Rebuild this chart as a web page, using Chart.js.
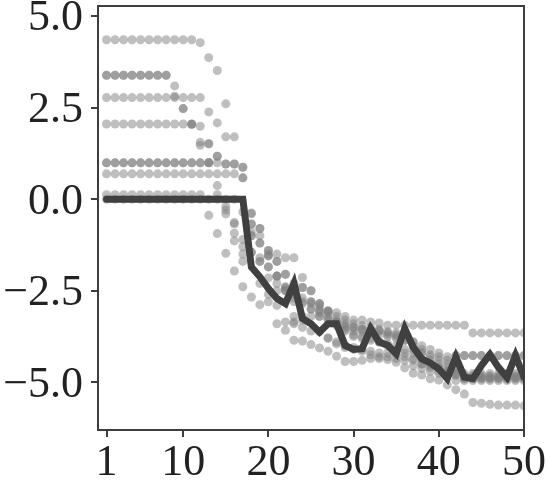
<!DOCTYPE html>
<html><head><meta charset="utf-8">
<script src="https://cdn.jsdelivr.net/npm/chart.js@4/dist/chart.umd.min.js"></script>
<style>html,body{margin:0;padding:0;background:#fff}#wrap{width:549px;height:487px}</style>
</head><body><div id="wrap"><canvas id="c" width="549" height="487"></canvas></div>
<script>
const steps = [1,2,3,4,5,6,7,8,9,10,11,12,13,14,15,16,17,18,19,20,21,22,23,24,25,26,27,28,29,30,31,32,33,34,35,36,37,38,39,40,41,42,43,44,45,46,47,48,49,50];
const xTicks = [1,10,20,30,40,50];
const yTicks = [-5,-2.5,0,2.5,5];

const mainLine = [0,0,0,0,0,0,0,0,0,0,0,0,0,0,0,0,0,-1.85,-2.12,-2.44,-2.71,-2.85,-2.30,-3.26,-3.40,-3.63,-3.40,-3.40,-3.99,-4.10,-4.08,-3.53,-3.90,-3.99,-4.22,-3.53,-4.04,-4.36,-4.47,-4.63,-4.90,-4.31,-4.86,-4.90,-4.54,-4.24,-4.59,-4.86,-4.27,-4.86];

const run1 = [4.35,4.35,4.35,4.35,4.35,4.35,4.35,4.35,4.35,4.35,4.35,4.27,3.86,3.51,2.60,1.70,0.87,-0.38,-0.80,-1.40,-1.50,-1.60,-1.60,-2.14,-2.50,-2.85,-3.05,-3.10,-3.20,-3.30,-3.30,-3.35,-3.38,-3.44,-3.44,-3.44,-3.44,-3.44,-3.44,-3.44,-3.44,-3.44,-3.44,-3.65,-3.65,-3.65,-3.65,-3.65,-3.65,-3.65];
const run2 = [3.38,3.38,3.38,3.38,3.38,3.38,3.38,3.38,3.09,2.47,2.04,1.55,1.51,1.17,0.96,-0.68,-1.10,-1.45,-1.70,-1.55,-1.70,-2.05,-2.40,-2.41,-2.80,-2.90,-3.28,-3.35,-3.50,-3.60,-3.60,-3.65,-3.70,-3.75,-3.80,-3.85,-3.90,-4.00,-4.10,-4.20,-4.30,-4.27,-4.27,-4.27,-4.27,-4.27,-4.27,-4.27,-4.27,-4.27];
const run3 = [3.38,3.38,3.38,3.38,3.38,3.38,3.38,3.38,2.81,2.47,2.04,1.47,1.00,0.37,-0.20,-0.93,-1.30,-1.00,-1.20,-1.85,-2.10,-2.40,-2.70,-2.70,-3.00,-3.05,-3.20,-3.45,-3.55,-3.75,-3.80,-3.85,-3.90,-4.00,-4.10,-4.20,-4.35,-4.50,-4.60,-4.70,-4.75,-4.80,-4.82,-4.82,-4.82,-4.82,-4.82,-4.82,-4.82,-4.82];
const run4 = [2.77,2.77,2.77,2.77,2.77,2.77,2.77,2.77,2.77,2.77,2.77,2.77,2.38,2.08,1.70,0.96,0.58,-0.68,-1.00,-1.50,-2.10,-2.50,-2.80,-2.85,-2.85,-3.10,-3.05,-3.30,-3.40,-3.50,-3.55,-3.60,-3.60,-3.70,-3.70,-3.80,-4.00,-4.20,-4.40,-4.50,-4.60,-4.70,-4.85,-4.85,-4.85,-4.85,-4.85,-4.85,-4.85,-4.85];
const run5 = [2.05,2.05,2.05,2.05,2.05,2.05,2.05,2.05,2.05,2.05,2.05,1.99,1.51,0.12,-0.30,-1.14,-1.50,-0.90,-1.60,-2.15,-2.30,-2.50,-3.20,-3.20,-3.20,-3.20,-3.78,-3.90,-4.00,-4.05,-4.10,-4.15,-4.20,-4.20,-4.25,-4.30,-4.40,-4.50,-4.55,-4.60,-4.70,-4.75,-4.90,-4.90,-4.90,-4.90,-4.90,-4.90,-4.90,-4.90];
const run6 = [0.99,0.99,0.99,0.99,0.99,0.99,0.99,0.99,0.99,0.99,0.99,0.99,0.99,0.99,0.96,0.96,0.87,-0.40,-0.80,-1.40,-2.50,-2.45,-3.35,-3.30,-2.50,-3.00,-3.10,-3.40,-3.60,-3.70,-3.75,-3.80,-3.90,-3.95,-4.00,-4.10,-4.20,-4.40,-4.50,-4.60,-4.70,-4.80,-4.88,-4.88,-4.88,-4.88,-4.88,-4.88,-4.88,-4.88];
const run7 = [0.99,0.99,0.99,0.99,0.99,0.99,0.99,0.99,0.99,0.99,0.99,0.99,0.99,1.17,-0.40,-0.64,-1.70,-1.45,-2.30,-2.60,-2.90,-3.35,-3.40,-3.50,-3.60,-3.62,-3.80,-3.95,-4.05,-4.10,-4.15,-4.25,-4.30,-4.30,-4.35,-4.40,-4.55,-4.62,-4.70,-4.75,-4.80,-4.95,-4.95,-4.95,-4.95,-4.95,-4.95,-4.95,-4.95,-4.95];
const run8 = [0.69,0.69,0.69,0.69,0.69,0.69,0.69,0.69,0.69,0.69,0.69,0.69,0.69,0.69,0.69,0.69,0.58,-1.00,-1.70,-1.55,-1.70,-2.40,-2.60,-2.80,-3.00,-3.20,-3.28,-3.35,-3.45,-3.50,-3.55,-3.58,-3.60,-3.62,-3.65,-3.70,-3.90,-4.10,-4.30,-4.40,-4.50,-4.60,-4.76,-4.76,-4.76,-4.76,-4.76,-4.76,-4.76,-4.76];
const run9 = [0.12,0.12,0.12,0.12,0.12,0.12,0.12,0.12,0.12,0.12,0.12,0.12,-0.44,-0.94,-1.48,-1.96,-2.39,-2.67,-2.88,-2.80,-3.40,-3.58,-3.85,-3.87,-3.97,-4.06,-4.15,-4.29,-4.43,-4.43,-4.40,-4.35,-4.35,-4.38,-4.45,-4.60,-4.75,-4.80,-4.90,-4.94,-5.07,-5.20,-5.32,-5.55,-5.57,-5.60,-5.62,-5.62,-5.62,-5.64];
const run10 = [0,0,0,0,0,0,0,0,0,0,0,0,0,0,0,0,-0.35,-0.68,-1.20,-1.85,-2.10,-2.05,-2.30,-2.41,-2.80,-2.85,-3.05,-3.20,-3.30,-3.40,-3.45,-3.50,-3.55,-3.65,-3.75,-3.85,-4.10,-4.20,-4.25,-4.30,-4.40,-4.27,-4.27,-4.27,-4.27,-4.27,-4.27,-4.27,-4.27,-4.27];
const runs = [run1,run2,run3,run4,run5,run6,run7,run8,run9,run10];

const INK = '#3d3d3d';
const toPts = arr => arr.map((v,i)=>({x:steps[i], y:v}));

const datasets = [{
  data: toPts(mainLine), showLine:true, borderColor:'#404040', borderWidth:7,
  pointRadius:0, borderCapStyle:'round', borderJoinStyle:'miter', tension:0, clip:0
}];
runs.forEach(r=>datasets.push({
  data: toPts(r), showLine:false, pointRadius:4.5, pointBorderWidth:0,
  backgroundColor:'rgba(128,128,128,0.5)', borderColor:'rgba(0,0,0,0)', clip:0
}));

const frame = {
  id:'frame',
  afterDraw(chart){
    const a = chart.chartArea, c = chart.ctx;
    c.save(); c.strokeStyle = INK; c.lineWidth = 2;
    c.beginPath();
    c.moveTo(a.left, a.top); c.lineTo(a.right, a.top); c.lineTo(a.right, a.bottom);
    c.stroke(); c.restore();
  }
};

const tickFont = {family:'"Liberation Serif", "Times New Roman", serif', size:44};
new Chart(document.getElementById('c'), {
  type:'scatter',
  data:{datasets},
  plugins:[frame],
  options:{
    responsive:false, animation:false, devicePixelRatio:1,
    layout:{padding:{top:6, right:25, left:0, bottom:0}},
    plugins:{legend:{display:false}, tooltip:{enabled:false}},
    scales:{
      x:{type:'linear', min:0, max:50,
        afterBuildTicks(s){ s.ticks = xTicks.map(v=>({value:v})); },
        afterFit(s){ s.height = 57; s.paddingLeft = 0; s.paddingRight = 0; },
        grid:{drawOnChartArea:false, drawTicks:true, tickLength:7, color:INK, lineWidth:2},
        border:{display:true, color:INK, width:2},
        ticks:{font:tickFont, color:'#222', padding:0, maxRotation:0, autoSkip:false, callback:v=>String(v)}
      },
      y:{type:'linear', min:-6.3, max:5.27,
        afterBuildTicks(s){ s.ticks = yTicks.map(v=>({value:v})); },
        afterFit(s){ s.width = 98; s.paddingTop = 0; s.paddingBottom = 0; },
        grid:{drawOnChartArea:false, drawTicks:true, tickLength:7, color:INK, lineWidth:2},
        border:{display:true, color:INK, width:2},
        ticks:{font:tickFont, color:'#222', padding:8, autoSkip:false, labelOffset:3,
          callback:v=>Number(v).toFixed(1).replace('-', '\u2212')}
      }
    }
  }
});
</script></body></html>
